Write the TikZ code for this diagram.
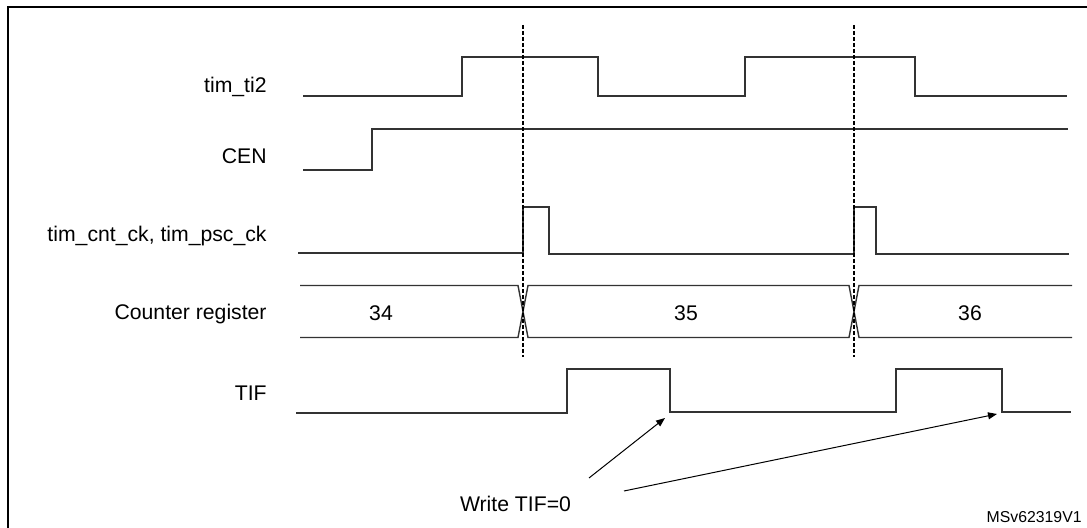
\documentclass[tikz,border=0pt]{standalone}
\usepackage{fontspec}
\setmainfont{Liberation Sans}
\usetikzlibrary{arrows.meta}

\begin{document}
\begin{tikzpicture}[x=0.5pt,y=-0.5pt,
    wave/.style={line width=0.7pt, color=black!80},
    sig/.style={anchor=base east, inner sep=0pt, font=\fontsize{10.6}{12}\selectfont},
    val/.style={anchor=base, inner sep=0pt, font=\fontsize{10.6}{12}\selectfont},
    marker/.style={dash pattern=on 2pt off 1pt, line width=0.55pt},
    note/.style={-{Triangle[length=4.5pt,width=3.5pt]}, line width=0.5pt}]
  \useasboundingbox (0,0) rectangle (1087,528);
  \draw[line width=1pt] (7.5,528) -- (7.5,7.5) -- (1087,7.5);
  % signal names
  \node[sig] (ti2) at (267,93) {tim\_ti2};
  \node[sig] (cen) at (267,164) {CEN};
  \node[sig] (cntck) at (267,242) {tim\_cnt\_ck, tim\_psc\_ck};
  \node[sig] (cntreg) at (267,320) {Counter register};
  \node[sig] (tif) at (267,401) {TIF};
  % waveforms
  \draw[wave] (303,96) -- (462,96) -- (462,57) -- (598,57) -- (598,96) -- (745,96)
              -- (745,57) -- (915,57) -- (915,96) -- (1067,96);
  \draw[wave] (303,170) -- (372,170) -- (372,129) -- (1068,129);
  \draw[wave] (298,253) -- (523,253) -- (523,207) -- (549,207) -- (549,254) -- (854,254)
              -- (854,207) -- (876,207) -- (876,254) -- (1069,254);
  \draw[wave] (300,285.5) -- (518,285.5) -- (528,337.5) -- (849,337.5) -- (859,285.5) -- (1072,285.5);
  \draw[wave] (300,337.5) -- (518,337.5) -- (528,285.5) -- (849,285.5) -- (859,337.5) -- (1072,337.5);
  \draw[wave] (296,413) -- (567,413) -- (567,369) -- (670,369) -- (670,412) -- (896,412)
              -- (896,369) -- (1002,369) -- (1002,412) -- (1071,412);
  % counter values
  \node[val] (v34) at (381,321) {34};
  \node[val] (v35) at (686,321) {35};
  \node[val] (v36) at (970,321) {36};
  % update events
  \foreach \x in {523,854}
    \draw[marker] (\x,25) -- (\x,357);
  % software clears TIF
  \node[val] (wr) at (515.5,512) {Write TIF=0};
  \coordinate (w1) at (589,478);
  \coordinate (w2) at (624,491);
  \coordinate (clr1) at (665,418);
  \coordinate (clr2) at (997,414);
  \draw[note] (w1) -- (clr1);
  \draw[note] (w2) -- (clr2);
  \node[anchor=base east, inner sep=0pt, font=\fontsize{7.9}{9}\selectfont] (ref) at (1082,523) {MSv62319V1};
\end{tikzpicture}
\end{document}
